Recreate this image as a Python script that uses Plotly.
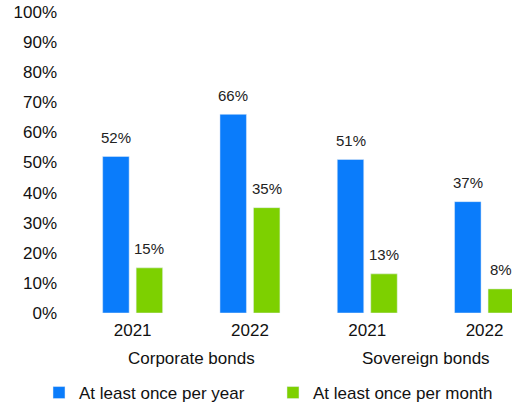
import plotly.graph_objects as go

years = ["2021", "2022", "2021", "2022"]
groups = ["Corporate bonds", "Sovereign bonds"]
series_names = ["At least once per year", "At least once per month"]
yearly = [0.52, 0.66, 0.51, 0.37]
monthly = [0.15, 0.35, 0.13, 0.08]
y_ticks = [0, 0.1, 0.2, 0.3, 0.4, 0.5, 0.6, 0.7, 0.8, 0.9, 1.0]

BLUE = "#0a7cfb"
GREEN = "#7dd000"
FONT = "Liberation Sans, Arial, sans-serif"

xpos = list(range(len(years)))

fig = go.Figure()
fig.add_trace(go.Bar(x=xpos, y=yearly, name=series_names[0], marker_color=BLUE,
                     legend="legend"))
fig.add_trace(go.Bar(x=xpos, y=monthly, name=series_names[1], marker_color=GREEN,
                     legend="legend2"))

half = 0.1428
for i, v in enumerate(yearly):
    fig.add_annotation(x=i - half, y=v, text=f"{round(v*100)}%", showarrow=False,
                       yshift=19, yanchor="middle", font=dict(size=15, color="#222"))
for i, v in enumerate(monthly):
    fig.add_annotation(x=i + half, y=v, text=f"{round(v*100)}%", showarrow=False,
                       yshift=19, yanchor="middle", font=dict(size=15, color="#222"))

for gi, g in enumerate(groups):
    fig.add_annotation(x=gi * 2 + 0.5, xref="x", y=0, yref="paper", text=g,
                       showarrow=False, yshift=-45, yanchor="middle",
                       font=dict(size=17, color="#111"))

leg_common = dict(orientation="h", xref="container", yref="container",
                  y=0.0368, xanchor="left", yanchor="middle",
                  font=dict(size=17), itemwidth=30, bgcolor="rgba(0,0,0,0)")

fig.update_layout(
    width=512, height=408,
    margin=dict(l=74, r=0, t=12, b=95, autoexpand=False),
    paper_bgcolor="white", plot_bgcolor="white",
    font=dict(family=FONT, color="#111", size=17),
    barmode="group", bargap=0.429, bargroupgap=0.209,
    showlegend=True,
    legend=dict(x=0.0762, **leg_common),
    legend2=dict(x=0.5332, **leg_common),
    xaxis=dict(range=[-0.5, 3.234], tickmode="array", tickvals=xpos, ticktext=years,
               showgrid=False, zeroline=False, showline=False, ticks="",
               ticklabelstandoff=5, tickfont=dict(size=17)),
    yaxis=dict(range=[0, 1], tickmode="array", tickvals=y_ticks,
               ticktext=[f"{round(t*100)}%" for t in y_ticks],
               showgrid=False, zeroline=False, showline=False, ticks="",
               ticklabelstandoff=16, ticklabeloverflow="allow",
               tickfont=dict(size=17)),
)

fig.write_html("out.html", config={"displayModeBar": False},
               post_script="document.body.style.margin='0';document.body.style.overflow='hidden';")
